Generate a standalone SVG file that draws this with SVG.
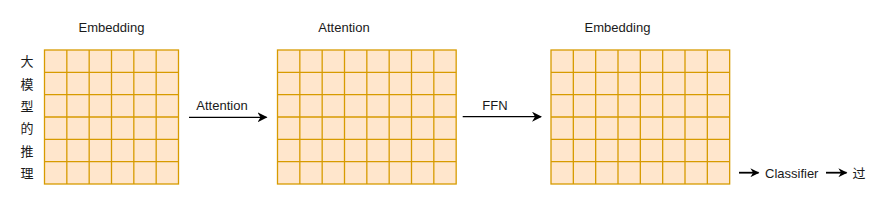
<svg xmlns="http://www.w3.org/2000/svg" width="888" height="200" viewBox="0 0 888 200">
<defs>
<style>
.cell{fill:#ffe6cc;stroke:#d79b00;stroke-width:1.3}
.gl{fill:none;stroke:#d79b00;stroke-width:1.3}
.t{font-family:"Liberation Sans",Arial,sans-serif;font-size:13px;fill:#1a1a1a}
.cjk{font-family:"Liberation Sans","Noto Sans CJK SC",sans-serif;font-size:13px;fill:#1a1a1a}
.edge{stroke:#000;stroke-width:1.3;fill:none}
.edge2{stroke:#000;stroke-width:1.8;fill:none}
</style>
<marker id="ah" viewBox="0 0 10 10" refX="9" refY="5" markerWidth="10" markerHeight="10" markerUnits="userSpaceOnUse" orient="auto">
<path d="M0,0 L10,5 L0,10 L3,5 Z" fill="#000"/>
</marker>
<marker id="ah2" viewBox="0 0 10 10" refX="9" refY="5" markerWidth="10" markerHeight="9" markerUnits="userSpaceOnUse" orient="auto">
<path d="M0,0 L10,5 L0,10 L3,5 Z" fill="#000"/>
</marker>
</defs>
<rect width="888" height="200" fill="#fff"/>

<g id="grid-embedding-1">
<rect class="cell" x="44.5" y="50" width="134" height="134"/>
<path class="gl" d="M66.83,50V184M89.17,50V184M111.5,50V184M133.83,50V184M156.17,50V184M44.5,72.33H178.5M44.5,94.67H178.5M44.5,117H178.5M44.5,139.33H178.5M44.5,161.67H178.5"/>
<text class="t" x="111.5" y="32" text-anchor="middle">Embedding</text>
</g>

<g id="label-vertical">
<text class="cjk" x="27" y="66" text-anchor="middle">大</text>
<text class="cjk" x="27" y="88.5" text-anchor="middle">模</text>
<text class="cjk" x="27" y="110.8" text-anchor="middle">型</text>
<text class="cjk" x="27" y="133" text-anchor="middle">的</text>
<text class="cjk" x="27" y="155.5" text-anchor="middle">推</text>
<text class="cjk" x="27" y="177.8" text-anchor="middle">理</text>
</g>

<g id="grid-attention">
<rect class="cell" x="277.5" y="50" width="178.67" height="134"/>
<path class="gl" d="M299.83,50V184M322.17,50V184M344.5,50V184M366.83,50V184M389.17,50V184M411.5,50V184M433.83,50V184M277.5,72.33H456.17M277.5,94.67H456.17M277.5,117H456.17M277.5,139.33H456.17M277.5,161.67H456.17"/>
<text class="t" x="344" y="32" text-anchor="middle">Attention</text>
</g>

<g id="grid-embedding-2">
<rect class="cell" x="551" y="50" width="178.67" height="134"/>
<path class="gl" d="M573.33,50V184M595.67,50V184M618,50V184M640.33,50V184M662.67,50V184M685,50V184M707.33,50V184M551,72.33H729.67M551,94.67H729.67M551,117H729.67M551,139.33H729.67M551,161.67H729.67"/>
<text class="t" x="617.5" y="32" text-anchor="middle">Embedding</text>
</g>

<g id="connectors">
<line class="edge" x1="189" y1="117.3" x2="266.5" y2="117.3" marker-end="url(#ah)"/>
<text class="t" x="222" y="110" text-anchor="middle">Attention</text>
<line class="edge" x1="462.7" y1="116.7" x2="541" y2="116.7" marker-end="url(#ah)"/>
<text class="t" x="495" y="110" text-anchor="middle">FFN</text>
<line class="edge2" x1="739" y1="172.7" x2="758.5" y2="172.7" marker-end="url(#ah2)"/>
<line class="edge2" x1="826" y1="172.7" x2="846.5" y2="172.7" marker-end="url(#ah2)"/>
</g>

<g id="classifier">
<text class="t" x="765" y="177.5">Classifier</text>
</g>
<g id="result">
<text class="cjk" x="852.5" y="177.5">过</text>
</g>
</svg>
